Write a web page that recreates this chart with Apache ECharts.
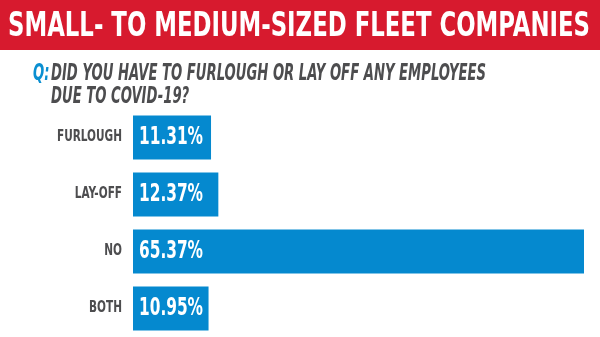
<!DOCTYPE html>
<html><head><meta charset="utf-8">
<script src="https://cdn.jsdelivr.net/npm/echarts@6/dist/echarts.min.js"></script>
<style>html,body{margin:0;padding:0;background:#fff}#c{width:600px;height:337px}</style>
</head><body><div id="c"></div>
<script>
const categories = ['FURLOUGH', 'LAY-OFF', 'NO', 'BOTH'];
const values = [11.31, 12.37, 65.37, 10.95];
const titleText = 'SMALL- TO MEDIUM-SIZED FLEET COMPANIES';
const questionLines = ['DID YOU HAVE TO FURLOUGH OR LAY OFF ANY EMPLOYEES', 'DUE TO COVID-19?'];

const FONT = '"DejaVu Sans Condensed", sans-serif';
const ctx = document.createElement('canvas').getContext('2d');
function measure(text, font) { ctx.font = font; return ctx.measureText(text).width; }

const titleFont = 'bold 34px ' + FONT;
const titleScale = 582 / measure(titleText, titleFont);
const qFont = 'italic bold 23px ' + FONT;
const qScale = 435 / measure(questionLines[0], qFont);
const catFont = 'bold 15px ' + FONT;
const catScale = 65 / measure('FURLOUGH', catFont);
const valFont = 'bold 25px ' + FONT;
const valScale = 64 / measure('11.31%', valFont);

const chart = echarts.init(document.getElementById('c'), null, {renderer: 'canvas'});
chart.setOption({
  animation: false,
  backgroundColor: '#fff',
  graphic: [
    {type: 'rect', left: 0, top: 0, shape: {width: 600, height: 50}, style: {fill: '#d71a2e'}},
    {type: 'text', x: 8, y: 27.5, scaleX: titleScale, style: {text: titleText, fill: '#fff', font: titleFont, align: 'left', verticalAlign: 'middle'}},
    {type: 'text', x: 33, y: 74, scaleX: qScale, style: {text: 'Q:', fill: '#0a8fd1', font: qFont, align: 'left', verticalAlign: 'middle'}},
    {type: 'text', x: 51, y: 74, scaleX: qScale, style: {text: questionLines[0], fill: '#4d4d4f', font: qFont, align: 'left', verticalAlign: 'middle'}},
    {type: 'text', x: 51, y: 97, scaleX: qScale, style: {text: questionLines[1], fill: '#4d4d4f', font: qFont, align: 'left', verticalAlign: 'middle'}}
  ],
  grid: {left: 133, right: 16, top: 109, height: 231, containLabel: false},
  xAxis: {type: 'value', min: 0, max: 'dataMax', show: false},
  yAxis: {
    type: 'category', data: categories, inverse: true,
    axisLine: {show: false}, axisTick: {show: false}, axisLabel: {show: false}
  },
  series: [{
    type: 'bar', data: values, barWidth: 44, z: 2,
    itemStyle: {color: '#0589cf'}
  }, {
    type: 'custom', clip: false, silent: true, z: 10,
    data: values.map((v, i) => [v, i]),
    encode: {x: 0, y: 1},
    renderItem: function (params, api) {
      const i = api.value(1);
      const p = api.coord([0, i]);
      return {
        type: 'group',
        children: [
          {type: 'text', x: p[0] - 11, y: p[1], scaleX: catScale, z2: 10,
            style: {text: categories[i], font: catFont, fill: '#4d4d4f', align: 'right', verticalAlign: 'middle'}},
          {type: 'text', x: p[0] + 6, y: p[1], scaleX: valScale, z2: 10,
            style: {text: api.value(0).toFixed(2) + '%', font: valFont, fill: '#ffffff', align: 'left', verticalAlign: 'middle'}}
        ]
      };
    }
  }]
});
</script></body></html>
